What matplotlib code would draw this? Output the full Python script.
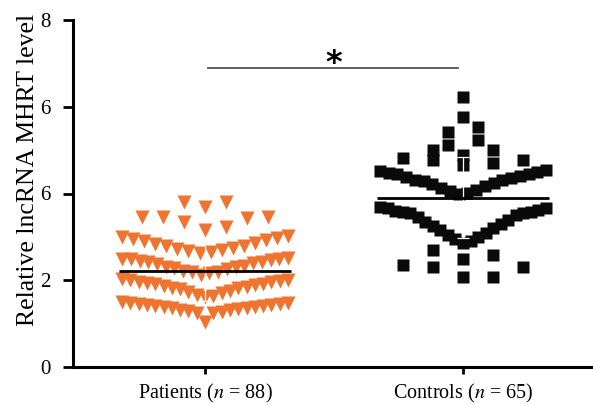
import numpy as np
import matplotlib
matplotlib.use('Agg')
from matplotlib import pyplot as plt

plt.rcParams['font.family'] = ['Liberation Serif', 'DejaVu Serif']
plt.rcParams['mathtext.fontset'] = 'stix'

# values
patients = [3.80, 3.69, 3.80,
            3.46, 3.46, 3.34, 3.16, 3.23, 3.43, 3.46,
            3.02, 2.99, 2.95, 2.91, 2.87, 2.83, 2.79, 2.75, 2.71, 2.67, 2.64, 2.62, 2.70, 2.80, 2.92, 2.97,
            2.52, 2.50, 2.48, 2.46, 2.44, 2.42, 2.40, 2.37, 2.34, 2.31, 2.28, 2.25, 2.22, 2.19, 2.16, 2.13,
            2.30, 2.42, 2.50, 2.20,
            2.02, 2.01, 1.99, 1.97, 1.95, 1.93, 1.91, 1.89, 1.87, 1.85, 1.82, 1.79, 1.76, 1.73, 1.70, 1.67,
            1.64, 1.62, 1.83, 1.92, 2.00,
            1.49, 1.48, 1.46, 1.44, 1.42, 1.40, 1.39, 1.38, 1.36, 1.34, 1.32, 1.31, 1.29, 1.27, 1.25, 1.24,
            1.41, 1.45, 1.47, 1.35, 1.04]
controls = [6.22, 5.76, 5.53, 5.41, 5.23, 5.12, 4.88, 5.00, 5.00, 4.77, 4.77, 4.82, 4.70, 4.65,
            4.55, 4.53, 4.50, 4.47, 4.44, 4.41, 4.38, 4.35, 4.32, 4.29, 4.25, 4.21, 4.17, 4.13, 4.09, 4.05,
            4.01, 3.99, 4.30, 4.46,
            3.57, 3.55,
            3.69, 3.67, 3.62, 3.58, 3.54, 3.50, 3.45, 3.40, 3.35, 3.30, 3.25, 3.20, 3.15, 3.10, 3.05, 3.00,
            2.95, 2.90, 2.86, 3.60, 3.66,
            2.70, 2.58, 2.50, 2.35, 2.30, 2.30, 2.07, 2.07]
group_labels = [r'Patients ($\it{n}$ = 88)', r'Controls ($\it{n}$ = 65)']
ytick_vals = [0, 2, 4, 6, 8]
ytick_text = ['0', '2', '6', '6', '8']

PX = 1.0 / 258  # one pixel in x data units


def swarm_x(values, center, edges, max_step, max_width):
    # bin the values, then lay each bin out from the centre, lowest value in the middle
    values = np.asarray(values)
    xs = np.empty(len(values))
    bins = np.digitize(values, edges)
    for b in np.unique(bins):
        idx = np.where(bins == b)[0]
        idx = idx[np.argsort(values[idx])]
        n = len(idx)
        step = max_step if n < 2 else min(max_step, max_width / (n - 1))
        shift = 0.5 if n % 2 == 0 else 0.0
        for k, i in enumerate(idx):
            slot = (k + 1) // 2 * (1 if k % 2 else -1)
            xs[i] = center + (slot - shift) * step * PX
    return xs


fig = plt.figure(figsize=(5.93, 4.04), dpi=100)
ax = fig.add_axes([73 / 593, 1 - 367 / 404, 1 - 73 / 593, 347 / 404])

px_x = swarm_x(patients, 0, [1.55, 2.06, 2.57, 3.07, 3.6], 21, 166)
ct_x = swarm_x(controls, 1, [2.45, 2.8, 3.75, 3.97, 4.6, 4.85, 5.06, 5.3, 5.6, 5.9], 30, 166)

ax.plot(px_x, patients, 'v', ms=9.4, color='#EF7430', mec='none', zorder=2)
ax.plot(ct_x, controls, 's', ms=9.0, color='#0a0a0a', mec='none', zorder=2)

for i, vals in enumerate([patients, controls]):
    m = np.mean(vals)
    sd = np.std(vals, ddof=1)
    ax.errorbar(i, m, yerr=sd, color='white', lw=0.9, capsize=4, capthick=0.9, zorder=3)
    ax.hlines(m, i - 0.335, i + 0.335, color='black', lw=2.0, zorder=4)

# significance bar
ax.plot([0.01, 0.98], [6.9, 6.9], color='#555555', lw=1.3)
ax.text(0.5, 6.80, '*', ha='center', va='baseline', fontsize=23, fontweight='bold', family='DejaVu Sans')

ax.set_xlim(-0.512, 1.504)
ax.set_ylim(0, 8)
ax.set_yticks(ytick_vals)
ax.set_yticklabels(ytick_text)
ax.set_xticks([0, 1])
ax.set_xticklabels(group_labels)
ax.set_ylabel('Relative lncRNA MHRT level', fontsize=18.5)
ax.yaxis.set_label_coords(-0.066, 0.568)

for s in ['top', 'right']:
    ax.spines[s].set_visible(False)
for s in ['left', 'bottom']:
    ax.spines[s].set_linewidth(2.2)
ax.tick_params(axis='y', length=7, width=2.0, labelsize=15, pad=9)
ax.tick_params(axis='x', length=5, width=2.0, labelsize=14.5, pad=6)

fig.savefig('out.png', dpi=100)
